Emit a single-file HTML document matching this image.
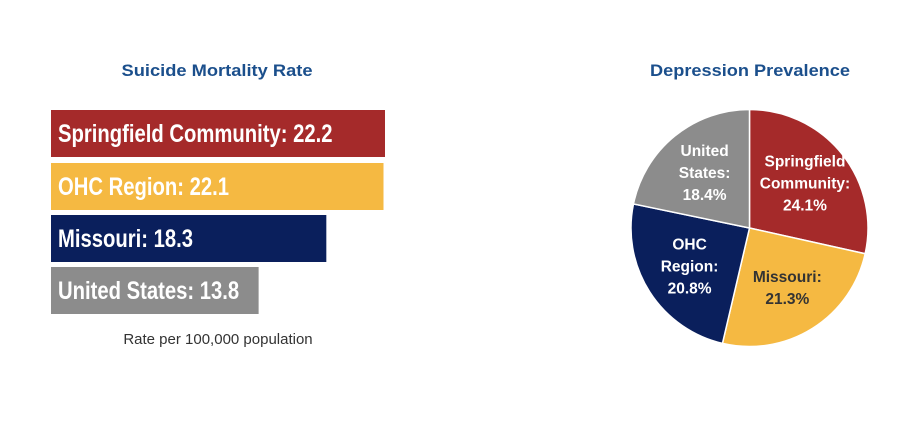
<!DOCTYPE html>
<html><head><meta charset="utf-8"><style>
html,body{margin:0;padding:0;background:#fff;}
svg{display:block;font-family:"Liberation Sans",Arial,sans-serif;}
</style></head><body>
<svg width="905" height="439" viewBox="0 0 905 439">
<text x="217" y="76" text-anchor="middle" font-size="16.5" font-weight="bold" fill="#1b4f8c" textLength="191" lengthAdjust="spacingAndGlyphs">Suicide Mortality Rate</text>
<text x="750" y="76" text-anchor="middle" font-size="16.5" font-weight="bold" fill="#1b4f8c" textLength="200" lengthAdjust="spacingAndGlyphs">Depression Prevalence</text>
<g id="bars"></g>
<text x="218" y="344" text-anchor="middle" font-size="15" fill="#333">Rate per 100,000 population</text>
<g id="pie"></g>
</svg>
<script>
const barCats = ["Springfield Community", "OHC Region", "Missouri", "United States"];
const barVals = [22.2, 22.1, 18.3, 13.8];
const barNames = ["bar-springfield", "bar-ohc-region", "bar-missouri", "bar-united-states"];
const pieCats = ["Springfield Community", "Missouri", "OHC Region", "United States"];
const pieVals = [24.1, 21.3, 20.8, 18.4];
const pieNames = ["slice-springfield", "slice-missouri", "slice-ohc-region", "slice-united-states"];

const NS = "http://www.w3.org/2000/svg";
const barColors = ["#a52a2a", "#f5b942", "#0a1f5c", "#8c8c8c"];
const pieColors = ["#a52a2a", "#f5b942", "#0a1f5c", "#8c8c8c"];
const x0 = 51, pxPerUnit = 334 / 22.2;
const xs = v => x0 + v * pxPerUnit;
const barTop = [110, 163, 215, 267], barH = 47;
const bars = document.getElementById("bars");
barVals.forEach((v, i) => {
  const r = document.createElementNS(NS, "rect");
  r.setAttribute("x", x0); r.setAttribute("y", barTop[i]);
  r.setAttribute("width", xs(v) - x0); r.setAttribute("height", barH);
  r.setAttribute("fill", barColors[i]);
  
  
  bars.appendChild(r);
  const t = document.createElementNS(NS, "text");
  t.setAttribute("x", 58); t.setAttribute("y", barTop[i] + 32);
  t.setAttribute("font-size", "25"); t.setAttribute("font-weight", "bold");
  t.setAttribute("fill", "#fff");
  t.textContent = barCats[i] + ": " + v.toFixed(1);
  
  
  bars.appendChild(t);
  const w = t.getComputedTextLength();
  t.setAttribute("textLength", w * 0.81);
  t.setAttribute("lengthAdjust", "spacingAndGlyphs");
});

const pie = document.getElementById("pie");
const cx = 749.5, cy = 228, R = 118.5;
const total = pieVals.reduce((a, b) => a + b, 0);
let ang = 0;
const labelLines = [["Springfield", "Community:"], ["Missouri:"], ["OHC", "Region:"], ["United", "States:"]];
const pt = (a, r) => [cx + r * Math.sin(a), cy - r * Math.cos(a)];
pieVals.forEach((v, i) => {
  const a0 = ang, a1 = ang + v / total * 2 * Math.PI; ang = a1;
  const p0 = pt(a0, R), p1 = pt(a1, R);
  const large = (a1 - a0) > Math.PI ? 1 : 0;
  const path = document.createElementNS(NS, "path");
  path.setAttribute("d", `M${cx},${cy} L${p0[0]},${p0[1]} A${R},${R} 0 ${large} 1 ${p1[0]},${p1[1]} Z`);
  path.setAttribute("fill", pieColors[i]);
  path.setAttribute("stroke", "#fff"); path.setAttribute("stroke-width", "1.5");
  
  
  pie.appendChild(path);
  const am = (a0 + a1) / 2, lp = pt(am, R * 0.6);
  const lines = labelLines[i].concat([v.toFixed(1) + "%"]);
  const t = document.createElementNS(NS, "text");
  t.setAttribute("text-anchor", "middle"); t.setAttribute("font-size", "15.5");
  t.setAttribute("font-weight", "bold");
  t.setAttribute("fill", i === 1 ? "#333" : "#fff");
  
  
  const startY = lp[1] - (lines.length - 1) * 11 + 5;
  lines.forEach((ln, j) => {
    const s = document.createElementNS(NS, "tspan");
    s.setAttribute("x", lp[0]); s.setAttribute("y", startY + j * 22);
    s.textContent = ln;
    t.appendChild(s);
  });
  pie.appendChild(t);
});
</script>
</body></html>
